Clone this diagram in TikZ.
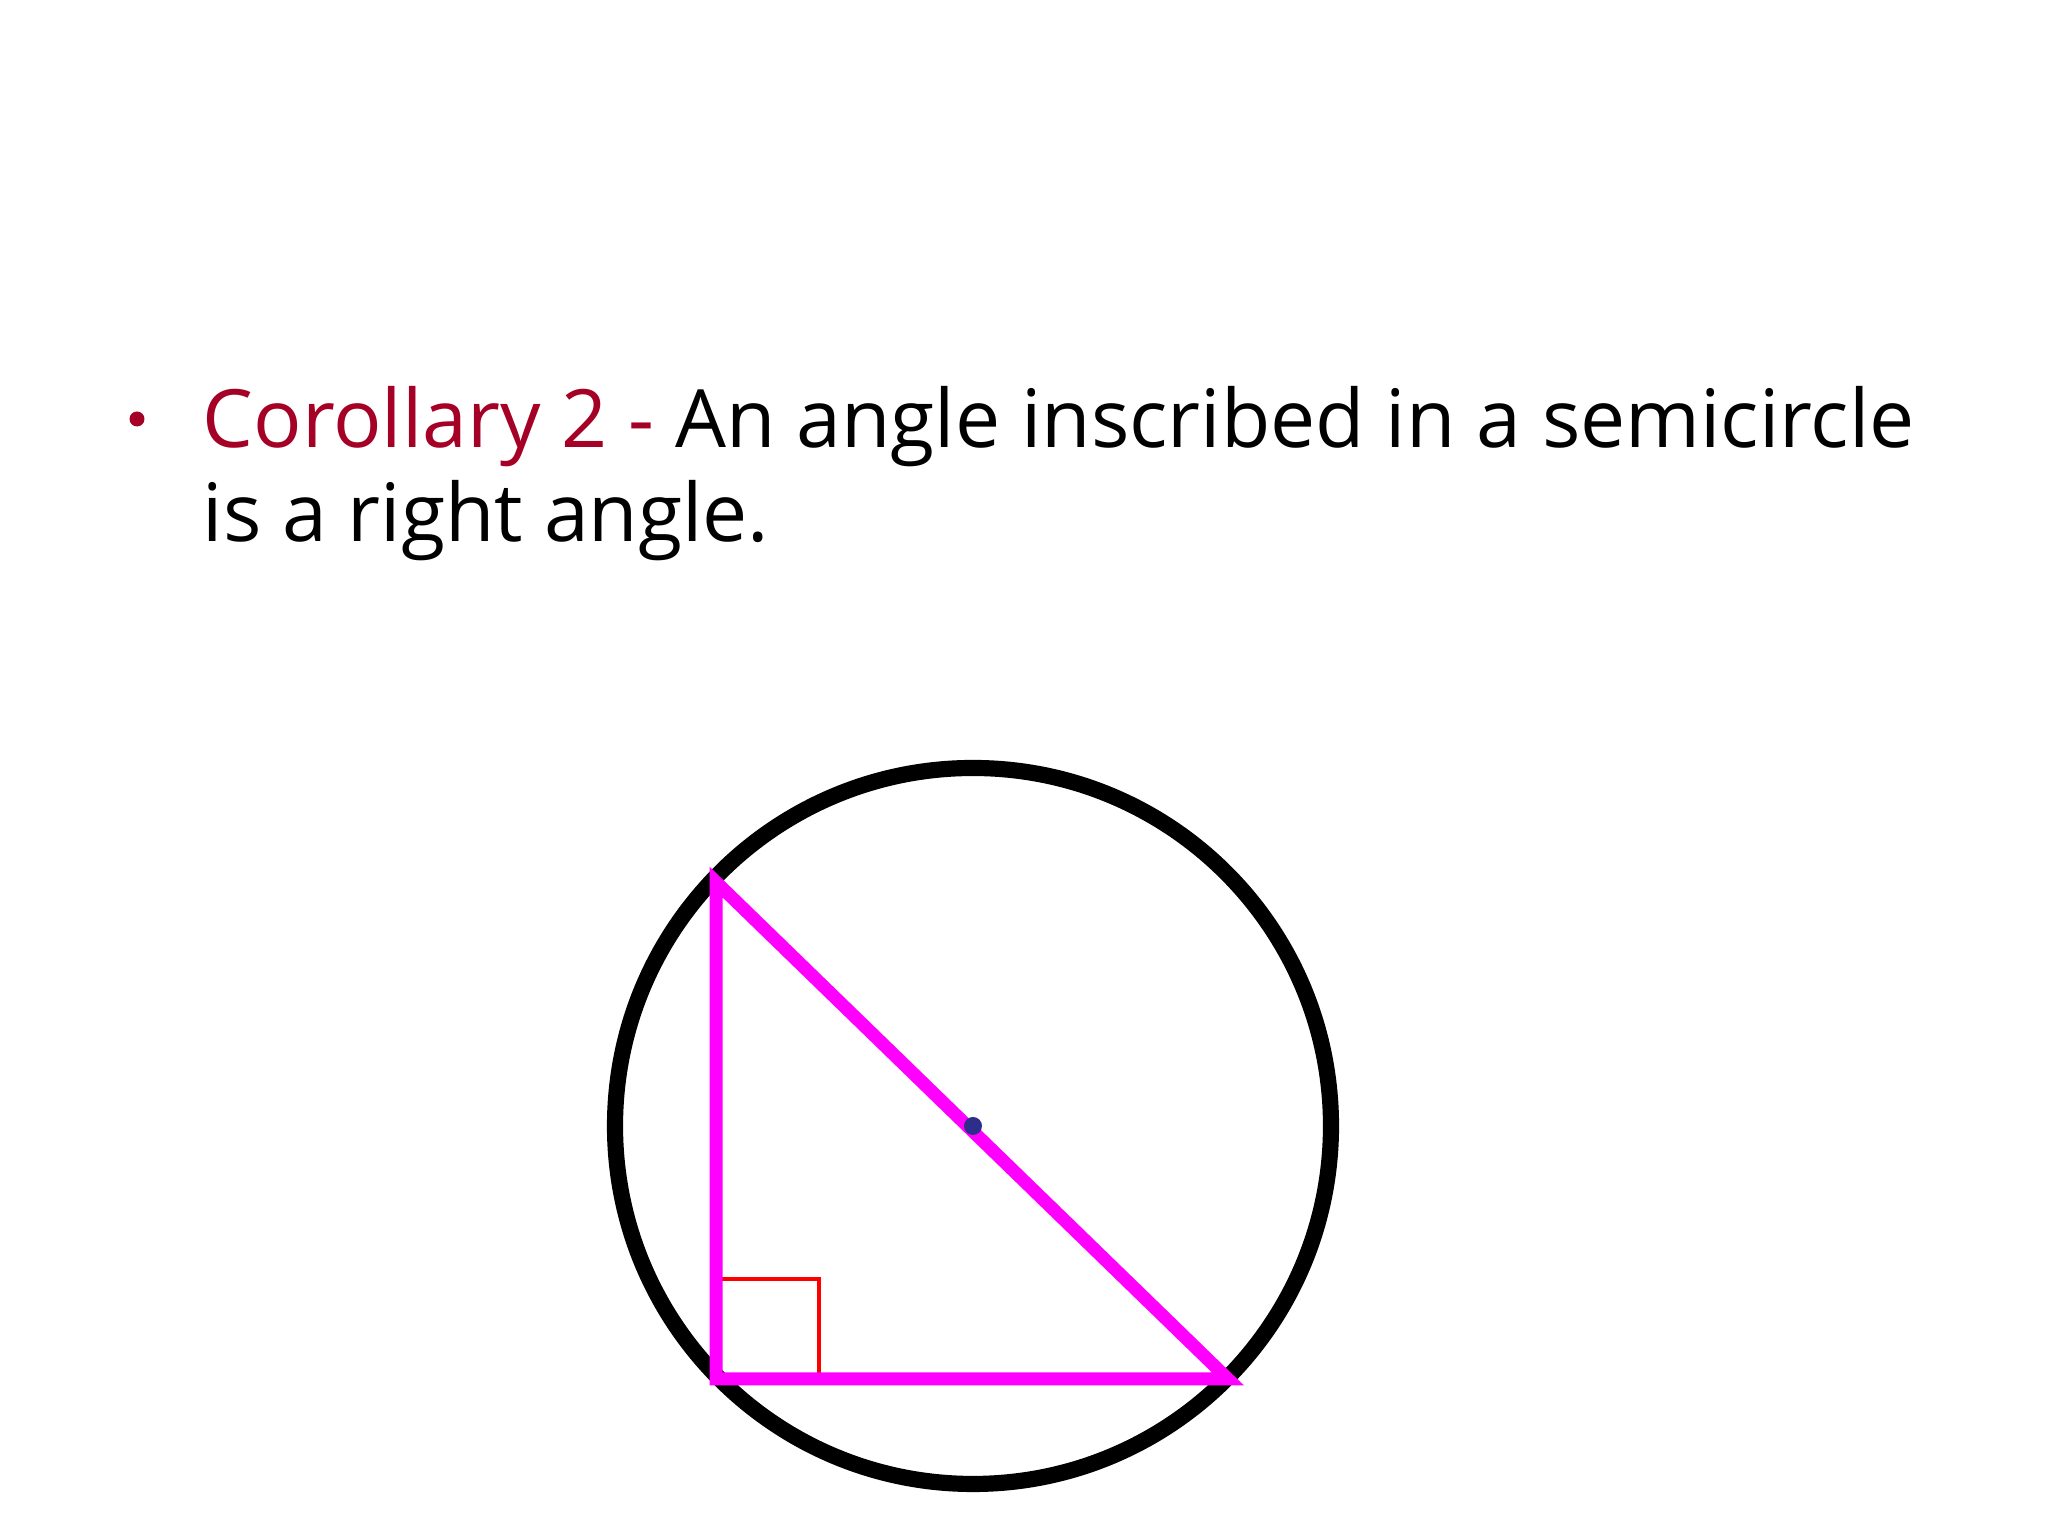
\documentclass[tikz,border=0pt]{standalone}
\usepackage{fontspec}
\setmainfont{Open Sans}
\usepackage{tikz}
\usetikzlibrary{calc}
\definecolor{corollaryRed}{RGB}{165,0,38}
\definecolor{triangleLine}{RGB}{255,0,255}
\definecolor{centreDot}{RGB}{45,45,140}
\tikzset{
  slidetext/.style={anchor=base west, inner sep=0pt, font=\fontsize{22.9}{27}\selectfont},
  circleline/.style={line width=4.6pt, black},
  triline/.style={line width=3.7pt, triangleLine},
  rightmark/.style={line width=0.9pt, red}
}

\begin{document}
\begin{tikzpicture}
   \useasboundingbox (0,0) rectangle (20.48,15.36);
   \fill[white] (0,0) rectangle (20.48,15.36);

   % the statement
   \node[circle, fill=corollaryRed, inner sep=0pt, minimum size=0.15cm] (bullet) at (1.37, 11.17) {};
   \node[slidetext] (lineone) at (2.02, 10.88) {\textcolor{corollaryRed}{Corollary 2 -} An angle inscribed in a semicircle};
   \node[slidetext] (linetwo) at (2.02, 9.94) {is a right angle.};

   % circle and the triangle on its diameter
   \coordinate (O) at (9.73, 4.10);
   \coordinate (A) at (7.16, 6.54);
   \coordinate (B) at (7.16, 1.57);
   \coordinate (C) at (12.28, 1.57);

   \draw[circleline] (O) circle (3.58);

   \draw[rightmark] ($(B) + (0,1.0)$) -- ++(1.03,0) -- ++(0,-1.0);

   \draw[triline] (A) -- (B) -- (C) -- cycle;

   \fill[centreDot] (O) circle (0.09);

\end{tikzpicture}
\end{document}
